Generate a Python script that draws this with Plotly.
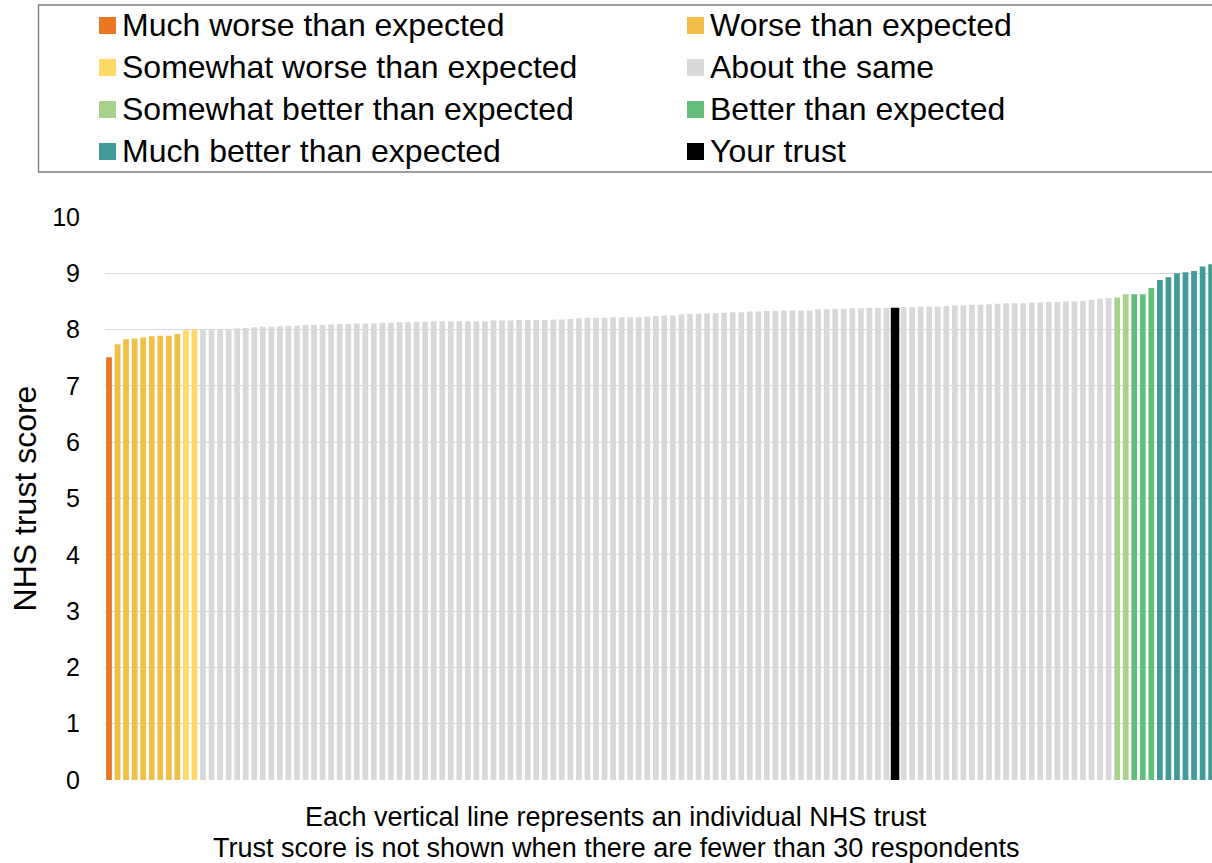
import plotly.graph_objects as go

# ---- data (NHS trust scores, sorted ascending) ----
much_worse = [7.51]
worse = [7.74, 7.83, 7.84, 7.86, 7.88, 7.89, 7.89, 7.92]
somewhat_worse = [7.99, 8.00]
about_same_low = [
    8.00, 8.00, 8.01, 8.01, 8.02, 8.03, 8.04, 8.05, 8.05, 8.06,
    8.07, 8.07, 8.08, 8.08, 8.08, 8.09, 8.10, 8.10, 8.11, 8.11,
    8.11, 8.12, 8.12, 8.13, 8.13, 8.14, 8.14,
    8.15, 8.15, 8.15, 8.15, 8.15, 8.15, 8.15, 8.16, 8.16, 8.16,
    8.17, 8.17, 8.17, 8.17, 8.18, 8.18, 8.19, 8.20, 8.21, 8.21,
    8.21, 8.22, 8.22, 8.22, 8.22, 8.23, 8.24,
    8.25, 8.25, 8.27, 8.28, 8.28, 8.29, 8.29, 8.30, 8.31, 8.31,
    8.32, 8.32, 8.33, 8.33, 8.34, 8.34, 8.34, 8.34, 8.36, 8.36,
    8.37, 8.37, 8.38, 8.38, 8.39, 8.39, 8.39,
]
your_trust = [8.39]
about_same_high = [
    8.40, 8.40, 8.41, 8.41, 8.41, 8.42, 8.43, 8.43, 8.44, 8.44,
    8.45, 8.46, 8.47, 8.47, 8.47, 8.48, 8.48, 8.49, 8.49, 8.50,
    8.50, 8.51, 8.53, 8.55, 8.56,
]
somewhat_better = [8.57, 8.63]
better = [8.63, 8.63, 8.74]
much_better = [8.88, 8.93, 9.00, 9.02, 9.04, 9.12, 9.16]

y_ticks = [0, 1, 2, 3, 4, 5, 6, 7, 8, 9, 10]
y_title = "NHS trust score"
x_note_1 = "Each vertical line represents an individual NHS trust"
x_note_2 = "Trust score is not shown when there are fewer than 30 respondents"

# ---- positions along the sorted order ----
order = [
    ("much_worse", much_worse),
    ("worse", worse),
    ("somewhat_worse", somewhat_worse),
    ("same_low", about_same_low),
    ("your", your_trust),
    ("same_high", about_same_high),
    ("somewhat_better", somewhat_better),
    ("better", better),
    ("much_better", much_better),
]
pos = {}
i = 0
for key, vals in order:
    pos[key] = list(range(i, i + len(vals)))
    i += len(vals)

FONT = "Liberation Sans, Arial, sans-serif"
BW = 0.67

series = [
    ("Much worse than expected", pos["much_worse"], much_worse, "#E87722", BW),
    ("Worse than expected", pos["worse"], worse, "#F1BE48", BW),
    ("Somewhat worse than expected", pos["somewhat_worse"], somewhat_worse, "#FFD966", BW),
    ("About the same", pos["same_low"] + pos["same_high"], about_same_low + about_same_high, "#D9D9D9", BW),
    ("Somewhat better than expected", pos["somewhat_better"], somewhat_better, "#A9D18E", BW),
    ("Better than expected", pos["better"], better, "#63BE7B", BW),
    ("Much better than expected", pos["much_better"], much_better, "#419B99", BW),
    ("Your trust", pos["your"], your_trust, "#000000", 1.0),
]

W, H = 1212, 863
ML, MR, MT, MB = 105, 0, 217, 83
PW, PH = W - ML - MR, H - MT - MB


def px_x(px):
    """pixel x -> paper coordinate"""
    return (px - ML) / PW


def px_y(py):
    """pixel y -> paper coordinate"""
    return (H - MB - py) / PH


fig = go.Figure()
for name, xs, ys, color, w in series:
    fig.add_trace(go.Bar(
        name=name, x=xs, y=ys, width=w,
        marker=dict(color=color, line=dict(width=0)),
        hovertemplate="%{y:.2f}<extra>" + name + "</extra>",
    ))

# ---- legend box drawn in two columns ----
shapes = [dict(type="rect", xref="paper", yref="paper",
               x0=px_x(38.5), x1=px_x(1240), y0=px_y(172), y1=px_y(5),
               line=dict(color="#808080", width=1.4), fillcolor="rgba(0,0,0,0)",
               layer="above")]
annotations = []
col_sw = [99, 687]
col_tx = [120, 708]
row_y = [25.5, 67.5, 109.5, 151.5]
for k, (name, xs, ys, color, w) in enumerate(series):
    r, c = divmod(k, 2)
    sx, cy = col_sw[c], row_y[r]
    shapes.append(dict(type="rect", xref="paper", yref="paper",
                       x0=px_x(sx), x1=px_x(sx + 17),
                       y0=px_y(cy + 8.5), y1=px_y(cy - 8.5),
                       line=dict(width=0), fillcolor=color, layer="above"))
    annotations.append(dict(text=name, xref="paper", yref="paper",
                            x=px_x(col_tx[c]), y=px_y(cy - 0.5),
                            xanchor="left", yanchor="middle", showarrow=False,
                            font=dict(family=FONT, size=32, color="black")))

for txt, cy in ((x_note_1, 817), (x_note_2, 848)):
    annotations.append(dict(text=txt, xref="paper", yref="paper",
                            x=px_x(615.5), y=px_y(cy),
                            xanchor="center", yanchor="middle", showarrow=False,
                            font=dict(family=FONT, size=27, color="black")))

fig.update_layout(
    width=W, height=H,
    margin=dict(l=ML, r=MR, t=MT, b=MB),
    barmode="overlay",
    plot_bgcolor="white", paper_bgcolor="white",
    font=dict(family=FONT, color="black"),
    showlegend=False,
    xaxis=dict(
        range=[-0.47, 129.1],
        showticklabels=False, showgrid=False, zeroline=False,
        showline=False, ticks="", automargin=False,
    ),
    yaxis=dict(
        range=[0, 10], tickvals=y_ticks,
        showgrid=True, gridcolor="#D9D9D9", gridwidth=1.3,
        zeroline=False, showline=False, ticks="",
        ticklabelstandoff=24, automargin=False,
        tickfont=dict(family=FONT, size=25, color="black"),
        title=dict(text=y_title, standoff=5,
                   font=dict(family=FONT, size=32, color="black")),
    ),
    shapes=shapes,
    annotations=annotations,
)

# remove the browser's default page margin so the figure fills the window exactly
fig.write_html(
    "out.html",
    config={"displayModeBar": False},
    post_script="document.documentElement.style.margin='0';"
                "document.body.style.margin='0';"
                "document.body.style.overflow='hidden';",
)
